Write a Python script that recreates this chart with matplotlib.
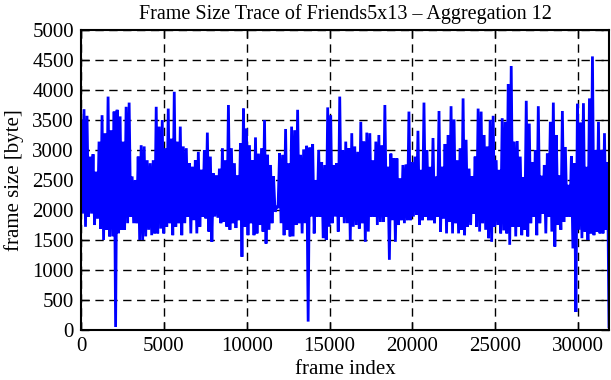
import numpy as np
import matplotlib
matplotlib.use("Agg")
import matplotlib.pyplot as plt

# Envelope of the aggregated trace: for each short stretch
# of frames, the highest and lowest frame size (bytes).
peak_sizes = [
    # 0 - ~5400
    3510, 3680, 3570, 2890, 2930, 2640, 3140, 3580, 3280, 3890,
    3330, 3640, 3670, 3560, 3140, 3720, 3790, 2560, 2500, 2890,
    3080, 3060, 2830, 2780, 2830, 3720, 3390, 3500, 3030, 3690,
    # ~5400 - ~10600
    3190, 3970, 3140, 3390, 3060, 3030, 2780, 2720, 2830, 2970,
    2670, 3000, 3290, 2890, 2610, 2580, 2690, 3030, 2830, 3750,
    3030, 2780, 2580, 3110, 3690, 3360, 3080, 2830, 3210,
    # ~10600 - ~15800
    2940, 3030, 3500, 2920, 2750, 2560, 2050, 2950, 2920, 3350,
    2780, 3390, 3330, 3670, 2920, 3010, 3070, 3040, 3100, 2500,
    3000, 2800, 2750, 3710, 3580, 2750, 2780, 3890, 3000,
    # ~15800 - ~21000
    3140, 3030, 3280, 3060, 2970, 3470, 3140, 3290, 3280, 2830,
    3140, 3250, 3080, 3750, 2720, 2940, 2860, 2860, 2530, 2750,
    2760, 3640, 2800, 2890, 3320, 2670, 3790, 3000, 2720,
    # ~21000 - ~26500
    3200, 2560, 3650, 2720, 3100, 3250, 3730, 3510, 2830, 3030,
    3860, 3170, 2690, 2560, 2890, 3690, 3640, 3250, 3060, 3500,
    3570, 2830, 2670, 3530, 3470, 4100, 4400, 3140, 3150, 2890,
    # ~26500 - end
    2550, 3820, 3440, 2800, 3000, 3730, 2570, 2750, 2940, 3470,
    3790, 3250, 2580, 3650, 3050, 2420, 2900, 2780, 3770, 3460,
    3780, 2720, 3860, 4560, 3000, 3470, 3000, 3280, 2800,
]

trough_sizes = [
    1940, 1720, 1890, 1940, 1750, 1860, 1690, 1500, 1670, 1560,
    1560, 50, 1610, 1670, 1670, 1780, 1890, 1780, 1780, 1500,
    1500, 1560, 1670, 1580, 1610, 1610, 1690, 1610, 1720, 1780,
    1580, 1720, 1780, 1580, 1780, 1890, 1610, 1830, 1610, 1720,
    1890, 1860, 1640, 1470, 1890, 1870, 1780, 1800, 1720, 1670,
    1780, 1700, 1830, 1220, 1720, 1580, 1780, 1580, 1610,
    1750, 1640, 1440, 1670, 1780, 1970, 2050, 1780, 1580, 1670,
    1560, 1560, 1750, 1780, 1610, 1780, 140, 1890, 1610, 1890,
    1890, 1530, 1500, 1720, 1780, 1890, 1640, 1890, 1780,
    1780, 1500, 1720, 1750, 1690, 1780, 1470, 1640, 1890, 1890,
    1750, 1800, 1800, 1890, 1170, 1830, 1470, 1750, 1830, 1780,
    1830, 1830, 1890, 1920, 1750, 1830, 1890, 1830, 1830,
    1780, 1890, 1640, 1860, 1610, 1800, 1610, 1780, 1610, 1670,
    1580, 1720, 1750, 1940, 1720, 1640, 1780, 1670, 1530, 1470,
    1720, 1750, 1610, 1660, 1610, 1420, 1720, 1560, 1720, 1580,
    1670, 1560, 1780, 1890, 1580, 1780, 1940, 1610, 1890, 1640,
    1390, 1750, 1670, 1800, 1890, 1890, 1360, 300, 1670, 1530,
    1640, 1500, 1610, 1580, 1640, 1610, 1610, 1670, 30,
]

last_frame = 31870
title = "Frame Size Trace of Friends5x13 \u2013 Aggregation 12"
x_label = "frame index"
y_label = "frame size [byte]"
x_ticks = [0, 5000, 10000, 15000, 20000, 25000, 30000]
y_ticks = list(range(0, 5001, 500))

# interleave peaks and troughs into one trace
sizes = np.empty(2 * len(peak_sizes))
sizes[0::2] = peak_sizes
sizes[1::2] = trough_sizes
frames = np.linspace(0, last_frame, len(sizes))

plt.rcParams["font.family"] = ["Liberation Serif", "DejaVu Serif"]

fig = plt.figure(figsize=(6.11, 3.80), dpi=100)
ax = fig.add_axes([81 / 611, 1 - 330 / 380, (609 - 81) / 611, 300 / 380])

ax.plot(frames, sizes, color="#0000ff", linewidth=2.0,
        solid_joinstyle="miter", solid_capstyle="butt")

ax.set_xlim(0, last_frame)
ax.set_ylim(0, 5000)
ax.set_xticks(x_ticks)
ax.set_yticks(y_ticks)
ax.tick_params(direction="in", length=6, width=1, top=True, right=True,
               labelsize=15, pad=5)
ax.grid(True, color="black", linestyle=(0, (6, 4)), linewidth=1.0)
for s in ax.spines.values():
    s.set_linewidth(1.5)

ax.set_title(title, fontsize=14.5, pad=8)
ax.set_xlabel(x_label, fontsize=15, labelpad=3)
ax.set_ylabel(y_label, fontsize=15, labelpad=6)

fig.savefig("out.png", dpi=100)
